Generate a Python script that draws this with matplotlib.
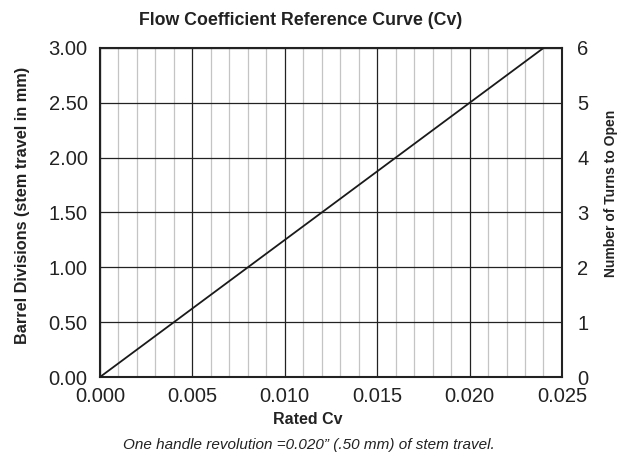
import matplotlib
matplotlib.use('Agg')
import matplotlib.pyplot as plt
from matplotlib.ticker import MultipleLocator

plt.rcParams['font.family'] = ['Liberation Sans', 'DejaVu Sans']

# Data
rated_cv = [0.0, 0.024]
barrel_divisions = [0.0, 3.0]

x_ticks = [0.000, 0.005, 0.010, 0.015, 0.020, 0.025]
y_ticks = [0.0, 0.5, 1.0, 1.5, 2.0, 2.5, 3.0]
turn_ticks = [0, 1, 2, 3, 4, 5, 6]

fig = plt.figure(figsize=(6.31, 4.54), dpi=100)
ax = fig.add_axes([0.1585, 0.1696, 0.7321, 0.7247])

ax.plot(rated_cv, barrel_divisions, color='#1a1a1a', lw=1.3, zorder=3)

ax.set_xlim(0, 0.025)
ax.set_ylim(0, 3.0)
ax.set_xticks(x_ticks)
ax.set_xticklabels([f'{v:.3f}' for v in x_ticks])
ax.set_yticks(y_ticks)
ax.set_yticklabels([f'{v:.2f}' for v in y_ticks])
ax.xaxis.set_minor_locator(MultipleLocator(0.001))

ax.grid(which='minor', axis='x', color='#c4c4c4', lw=0.9)
ax.grid(which='major', axis='both', color='#222222', lw=0.9)
ax.tick_params(which='both', length=0, labelsize=14.5, colors='#222222')
ax.tick_params(axis='y', pad=9)
ax.tick_params(axis='x', pad=7)
for s in ax.spines.values():
    s.set_linewidth(1.5)
    s.set_color('#222222')

ax2 = ax.twinx()
ax2.set_ylim(0, 6)
ax2.set_yticks(turn_ticks)
ax2.tick_params(length=0, labelsize=14.5, pad=11, colors='#222222')
for s in ax2.spines.values():
    s.set_visible(False)

ax.set_xlabel('Rated Cv', fontsize=11.5, fontweight='bold', color='#222222')
ax.xaxis.set_label_coords(0.45, -0.13)
ax.xaxis.label.set_va('center')
ax.set_ylabel('Barrel Divisions (stem travel in mm)', fontsize=11.7, fontweight='bold', color='#222222')
ax.yaxis.set_label_coords(-0.168, 0.52)
ax.yaxis.label.set_va('center')
ax2.set_ylabel('Number of Turns to Open', fontsize=10, fontweight='bold', color='#222222')
ax2.yaxis.set_label_coords(1.106, 0.557)
ax2.yaxis.label.set_va('center')

fig.text(0.477, 0.955, 'Flow Coefficient Reference Curve (Cv)', ha='center', va='center',
         fontsize=12.8, fontweight='bold', color='#222222')
fig.text(0.49, 0.02, 'One handle revolution =0.020\u201d (.50 mm) of stem travel.',
         ha='center', va='center', fontsize=11, style='italic', color='#222222')

fig.savefig('out.png', dpi=100)
